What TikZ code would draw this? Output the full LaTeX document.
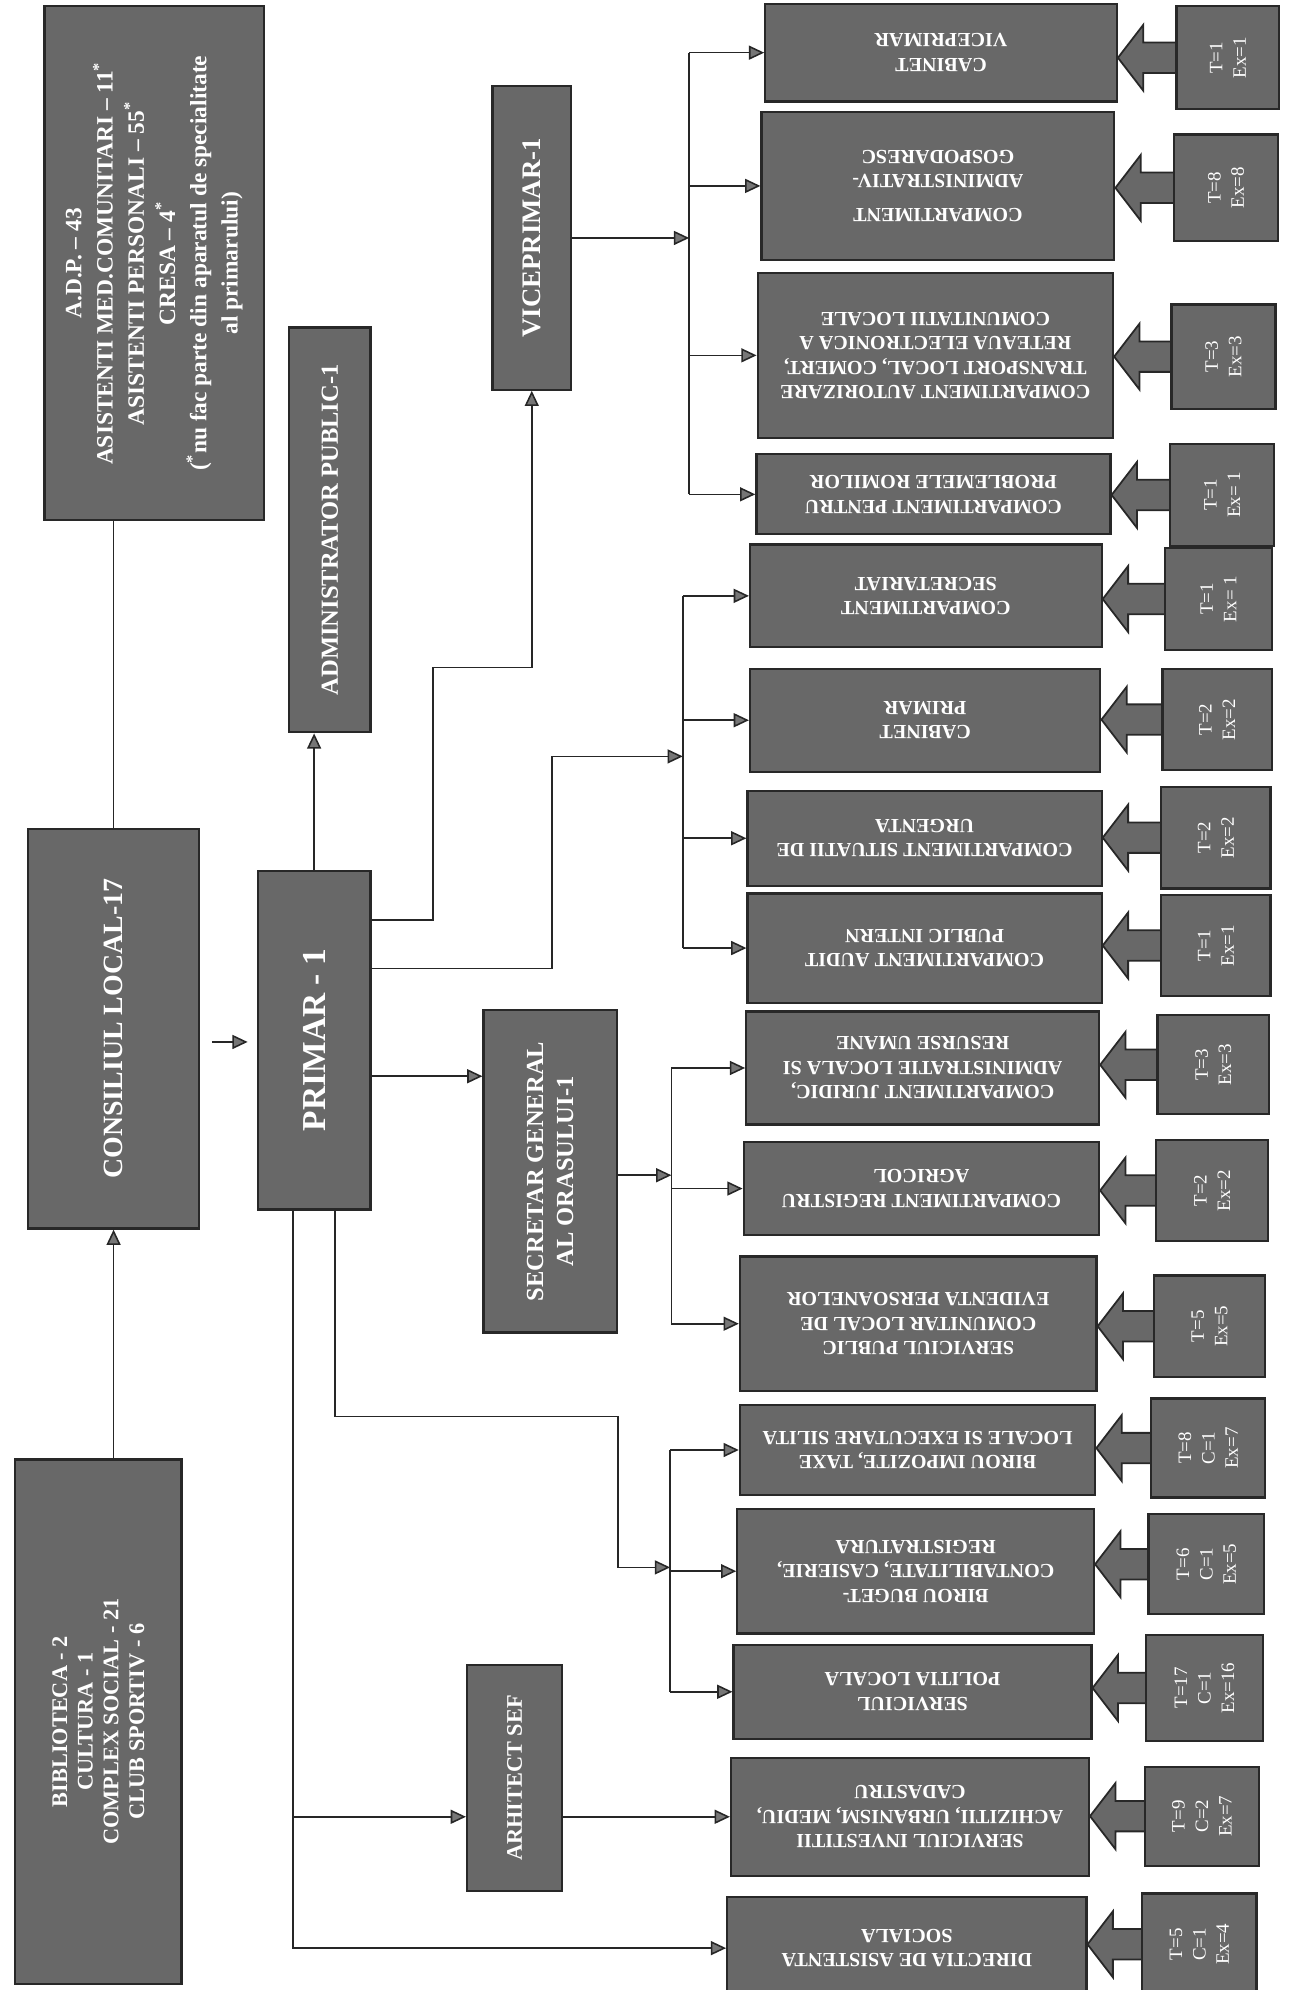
\documentclass[tikz,border=0pt]{standalone}
\usepackage{fontspec}
\setmainfont{Liberation Serif}
\usetikzlibrary{arrows.meta,positioning,calc,fit,backgrounds}
\definecolor{orggray}{RGB}{104,104,104}
\definecolor{orgedge}{RGB}{40,40,40}
\definecolor{orgtip}{RGB}{118,118,118}
\tikzset{
  box/.style  = {draw=orgedge, line width=1pt, fill=orggray, inner sep=0pt},
  vtxt/.style = {rotate=90, text=white, align=center, inner sep=0pt},
  utxt/.style = {rotate=180, text=white, align=center, inner sep=0pt,
                 font=\bfseries\fontsize{9}{11}\selectfont},
  ttxt/.style = {rotate=90, text=white, align=center, inner sep=0pt,
                 font=\fontsize{8.5}{10.5}\selectfont},
  ln/.style   = {draw=black!85, line width=0.7pt},
  ar/.style   = {ln, -{Triangle[length=2.4mm, width=2.2mm, fill=orgtip]}},
  fat/.style  = {fill=orggray, draw=orgedge, line width=0.8pt},
}
\newcommand{\sidebox}[5]{%
  \node[box, fit={(#2) (#3)}] (#1) {};
  \node[vtxt, font=#4] (#1-txt) at (#1) {#5};
}

\begin{document}
\begin{tikzpicture}[x=0.2mm, y=-0.2mm]
    \useasboundingbox (0,0) rectangle (1017,1568);

    % left and middle column
    \sidebox{adp}{35,5}{208,410}{\bfseries\fontsize{10.5}{14}\selectfont}{%
      A.D.P. – 43\\ASISTENTI MED.COMUNITARI – 11\textsuperscript{*}\\
      ASISTENTI PERSONALI – 55\textsuperscript{*}\\CRESA – 4\textsuperscript{*}\\
      (\textsuperscript{*}nu fac parte din aparatul de specialitate\\al primarului)}
    \sidebox{cl}{22,653}{157,968}{\bfseries\fontsize{12.5}{15}\selectfont}{CONSILIUL LOCAL-17}
    \sidebox{bib}{12,1150}{143,1563}{\bfseries\fontsize{10}{11.5}\selectfont}{%
      BIBLIOTECA - 2\\CULTURA - 1\\COMPLEX SOCIAL - 21\\CLUB SPORTIV - 6}
    \sidebox{admin}{228,258}{292,577}{\bfseries\fontsize{11}{13}\selectfont}{ADMINISTRATOR PUBLIC-1}
    \sidebox{primar}{203,686}{292,953}{\bfseries\fontsize{15}{18}\selectfont}{PRIMAR - 1}
    \sidebox{vice}{388,68}{450,307}{\bfseries\fontsize{12}{14}\selectfont}{VICEPRIMAR-1}
    \sidebox{sec}{381,796}{486,1050}{\bfseries\fontsize{11}{13.5}\selectfont}{SECRETAR GENERAL\\AL ORASULUI-1}
    \sidebox{arh}{368,1312}{443,1490}{\bfseries\fontsize{10}{12}\selectfont}{ARHITECT SEF}

    % departments, text upside down
    \foreach \n/\xa/\ya/\xb/\yb/\t in {
        1/603/3/880/80/{CABINET\\VICEPRIMAR},
        2/600/88/878/205/{COMPARTIMENT\\[4pt]ADMINISTRATIV-\\GOSPODARESC},
        3/597/215/877/345/{COMPARTIMENT AUTORIZARE\\TRANSPORT LOCAL, COMERT,\\RETEAUA ELECTRONICA A\\COMUNITATII LOCALE},
        4/596/358/875/421/{COMPARTIMENT PENTRU\\PROBLEMELE ROMILOR},
        5/591/429/868/510/{COMPARTIMENT\\SECRETARIAT},
        6/591/527/867/608/{CABINET\\PRIMAR},
        7/589/623/868/698/{COMPARTIMENT SITUATII DE\\URGENTA},
        8/589/704/868/790/{COMPARTIMENT AUDIT\\PUBLIC INTERN},
        9/588/797/866/886/{COMPARTIMENT JURIDIC,\\ADMINISTRATIE LOCALA SI\\RESURSE UMANE},
        10/586/900/866/973/{COMPARTIMENT REGISTRU\\AGRICOL},
        11/583/990/864/1096/{SERVICIUL PUBLIC\\COMUNITAR LOCAL DE\\EVIDENTA PERSOANELOR},
        12/583/1107/863/1178/{BIROU IMPOZITE, TAXE\\LOCALE SI EXECUTARE SILITA},
        13/581/1189/862/1287/{BIROU BUGET-\\CONTABILITATE, CASIERIE,\\REGISTRATURA},
        14/578/1296/860/1370/{SERVICIUL\\POLITIA LOCALA},
        15/576/1385/858/1478/{SERVICIUL INVESTITII\\ACHIZITII, URBANISM, MEDIU,\\CADASTRU},
        16/573/1495/856/1575/{DIRECTIA DE ASISTENTA\\SOCIALA}}{
      \node[box, fit={(\xa,\ya) (\xb,\yb)}] (b\n) {};
      \node[utxt] (b\n-txt) at (b\n) {\t};
    }

    % staff counts
    \foreach \n/\xa/\ya/\xb/\yb/\t in {
        1/927/5/1008/86/{T=1\\Ex=1},      2/925/106/1007/190/{T=8\\Ex=8},
        3/923/240/1005/322/{T=3\\Ex=3},   4/922/350/1004/430/{T=1\\Ex= 1},
        5/918/432/1002/512/{T=1\\Ex= 1},  6/916/527/1002/607/{T=2\\Ex=2},
        7/915/620/1001/700/{T=2\\Ex=2},   8/915/705/1001/785/{T=1\\Ex=1},
        9/912/800/1000/878/{T=3\\Ex=3},   10/911/898/999/978/{T=2\\Ex=2},
        11/909/1005/997/1085/{T=5\\Ex=5}, 12/907/1102/997/1180/{T=8\\C=1\\Ex=7},
        13/905/1193/996/1272/{T=6\\C=1\\Ex=5},
        14/903/1288/995/1372/{T=17\\C=1\\Ex=16},
        15/902/1392/992/1470/{T=9\\C=2\\Ex=7},
        16/900/1492/990/1572/{T=5\\C=1\\Ex=4}}{
      \node[box, fit={(\xa,\ya) (\xb,\yb)}] (t\n) {};
      \node[ttxt] (t\n-txt) at (t\n) {\t};
    }

    % fat arrows from the counts to the departments
    \begin{scope}[on background layer]
      \foreach \n in {1,...,16}{
        \coordinate (tip\n) at (b\n.east |- t\n.west);
        \path[fat] (tip\n) -- ++(20,-26) -- ++(0,14) -- ($(t\n.west)+(2,-12)$)
             -- ($(t\n.west)+(2,12)$) -- ($(tip\n)+(20,12)$) -- ++(0,14) -- cycle;
      }
    \end{scope}

    % upper links
    \draw[ln] (cl.north |- adp.south) -- (cl.north);
    \draw[ar] (cl.south |- bib.north) -- (cl.south);
    \draw[ar, shorten <=1.8mm, shorten >=1.4mm] (cl.east |- 0,821) -- (primar.west |- 0,821);
    \draw[ar] (primar.north) -- (primar.north |- admin.south);
    \draw[ar] (primar.east |- 0,725) -| (341,526) -| (vice.south);
    \draw[ar] (primar.east |- 0,848) -- (sec.west |- 0,848);

    % bus lines to the departments
    \coordinate (busA) at (543,0);
    \coordinate (busB) at (538,0);
    \coordinate (busC) at (529,0);
    \coordinate (busD) at (528,0);
    \draw[ln] (busA |- b1) -- (busA |- b4);
    \draw[ln] (busB |- b5) -- (busB |- b8);
    \draw[ln] (busC |- b9) -- (busC |- b11);
    \draw[ln] (busD |- b12) -- (busD |- b14);
    \foreach \n in {1,...,4}   \draw[ar] (busA |- b\n) -- (b\n.west);
    \foreach \n in {5,...,8}   \draw[ar] (busB |- b\n) -- (b\n.west);
    \foreach \n in {9,...,11}  \draw[ar] (busC |- b\n) -- (b\n.west);
    \foreach \n in {12,...,14} \draw[ar] (busD |- b\n) -- (b\n.west);

    \draw[ar] (vice.east) -- (busA |- vice.east);
    \draw[ar] (primar.east |- 0,763) -| (435,596) -- (busB |- 0,596);
    \draw[ar] (sec.east |- 0,926) -- (busC |- 0,926);
    \draw[ar] (primar.south -| 264,0) -- (264,1116) -| (487,1235) -- (busD |- 0,1235);

    % lower links
    \coordinate (pl) at (231,0);
    \draw[ar] (primar.south -| pl) |- (b16.west);
    \draw[ar] (pl |- b15.west) -- (arh.west |- b15.west);
    \draw[ar] (arh.east |- b15.west) -- (b15.west);
\end{tikzpicture}
\end{document}
